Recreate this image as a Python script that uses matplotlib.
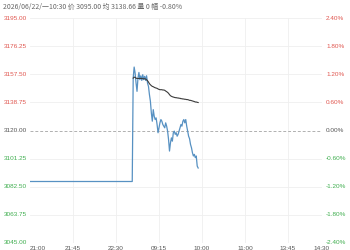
import matplotlib
matplotlib.use("Agg")
import matplotlib.pyplot as plt

plt.rcParams['font.family'] = ['Liberation Sans', 'Noto Sans CJK SC', 'DejaVu Sans']

# ---- data ----
prev_close = 3120.00
y_ticks = [3195.00, 3176.25, 3157.50, 3138.75, 3120.00, 3101.25, 3082.50, 3063.75, 3045.00]
pct_labels = ['2.40%', '1.80%', '1.20%', '0.60%', '0.00%', '-0.60%', '-1.20%', '-1.80%', '-2.40%']
x_tick_minutes = [0, 45, 90, 135, 180, 225, 270, 315]
x_tick_labels = ['21:00', '21:45', '22:30', '09:15', '10:00', '11:00', '13:45', '14:30']

flat_minutes = [0, 107]
flat_values = [3086.0, 3086.0]
start_minute = 108
price = [3155.0, 3162.3, 3158.3, 3151.6, 3146.1, 3155.0, 3158.7, 3153.9, 3156.5, 3153.4,
         3157.2, 3153.9, 3156.1, 3153.4, 3156.5, 3151.6, 3149.4, 3143.9, 3139.5, 3131.7,
         3126.2, 3133.9, 3129.5, 3127.3, 3128.4, 3124.0, 3118.5, 3121.8, 3125.1, 3127.3,
         3126.2, 3124.0, 3122.9, 3121.8, 3125.1, 3122.9, 3119.6, 3114.0, 3106.3, 3111.8,
         3115.1, 3112.9, 3118.5, 3119.6, 3117.4, 3118.5, 3116.2, 3117.4, 3119.6, 3121.8,
         3124.0, 3122.9, 3126.2, 3127.3, 3125.1, 3127.3, 3122.9, 3119.6, 3116.2, 3114.5,
         3110.7, 3108.5, 3105.2, 3103.0, 3104.1, 3101.9, 3103.0, 3096.3, 3095.0]
avg = [3154.9, 3155.6, 3155.4, 3154.9, 3154.7, 3154.7, 3154.7, 3154.7, 3154.7, 3154.7,
       3154.5, 3154.5, 3154.5, 3154.3, 3153.8, 3153.2, 3152.3, 3151.2, 3150.5, 3149.9,
       3149.4, 3149.2, 3148.8, 3148.5, 3148.3, 3148.1, 3147.7, 3147.4, 3147.2, 3147.2,
       3147.2, 3147.0, 3147.0, 3146.8, 3146.3, 3145.9, 3145.4, 3144.8, 3143.9, 3143.2,
       3142.8, 3142.5, 3142.3, 3142.1, 3141.9, 3141.9, 3141.7, 3141.7, 3141.5, 3141.5,
       3141.2, 3141.2, 3141.0, 3141.0, 3140.8, 3140.8, 3140.6, 3140.6, 3140.4, 3140.1,
       3140.1, 3139.9, 3139.7, 3139.5, 3139.3, 3139.0, 3139.0, 3138.8, 3138.66]
header = "2026/06/22/一10:30 价 3095.00 均 3138.66 量 0 幅 -0.80%"

# ---- drawing ----
RED = '#e0564f'
GREEN = '#3fae4f'
GRAY = '#555555'

fig = plt.figure(figsize=(3.5, 2.5), dpi=100)
ax = fig.add_axes([30/350, 7/250, 292/350, 225/250])
ax.set_xlim(0, 305.6)
ax.set_ylim(y_ticks[-1], y_ticks[0])

for s in ax.spines.values():
    s.set_visible(False)
ax.set_xticks([])
ax.set_yticks([])

for v in y_ticks:
    if v == prev_close:
        ax.axhline(v, color='#b0b0b0', lw=0.7, ls=(0, (3, 2)), zorder=1)
    else:
        ax.axhline(v, color='#efefef', lw=0.6, zorder=0)
for m in x_tick_minutes[1:-1]:
    ax.axvline(m, color='#efefef', lw=0.6, zorder=0)

minutes = list(range(start_minute, start_minute + len(price)))
ax.plot(flat_minutes + minutes, flat_values + price, color='#5791c2', lw=0.9, zorder=3)
ax.plot(minutes, avg, color='#3a3a3a', lw=0.8, zorder=4)

ytr = ax.get_yaxis_transform()
for v, p in zip(y_ticks, pct_labels):
    c = RED if v > prev_close else (GREEN if v < prev_close else GRAY)
    ax.text(-26/292, v, f"{v:.2f}", transform=ytr, ha='left', va='center',
            fontsize=4.6, color=c, clip_on=False)
    ax.text(1.0137, v, p, transform=ytr, ha='left', va='center',
            fontsize=4.6, color=c, clip_on=False)

xtr = ax.get_xaxis_transform()
for i, (m, lab) in enumerate(zip(x_tick_minutes, x_tick_labels)):
    ha = 'left' if i == 0 else ('right' if i == len(x_tick_labels) - 1 else 'center')
    mm = 305.6 * (300/292) if i == len(x_tick_labels) - 1 else m
    ax.text(mm if i != 0 else m, -0.012, lab, transform=xtr, ha=ha, va='top',
            fontsize=4.6, color=GRAY, clip_on=False)

fig.text(3/350, 1 - 7/250, header, ha='left', va='center', fontsize=5.0, color='#666666',
         family=['Noto Sans CJK SC', 'DejaVu Sans'])

fig.savefig('out.png', dpi=100)
